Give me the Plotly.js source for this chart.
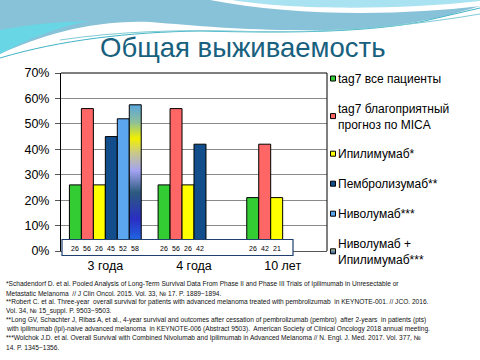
<!DOCTYPE html>
<html><head><meta charset="utf-8">
<script src="https://cdn.plot.ly/plotly-3.0.1.min.js"></script>
<style>html,body{margin:0;padding:0;background:#fff}#chart{width:480px;height:360px}</style>
</head><body><div id="chart"></div>
<script>
var categories = ['3 года', '4 года', '10 лет'];
var seriesNames = ['tag7 все пациенты', 'tag7 благоприятный<br>прогноз по MICA', 'Ипилимумаб*', 'Пембролизумаб**', 'Ниволумаб***', 'Ниволумаб +<br>Ипилимумаб***'];
var tag7All = [26, 26, 21];
var tag7Mica = [56, 56, 42];
var ipilimumab = [26, 26, 21];
var pembrolizumab = [45, 42, null];
var nivolumab = [52, null, null];
var nivoIpi = [57.5, null, null];
var tableTag7All = ['26', '26', '26'];
var tableTag7Mica = ['56', '56', '42'];
var tableIpi = ['26', '26', '21'];
var tablePembro = ['45', '42', ''];
var tableNivo = ['52', '', ''];
var tableNivoIpi = ['58', '', ''];
var yTicks = [0, 10, 20, 30, 40, 50, 60, 70];
var yTickLabels = ['0%', '10%', '20%', '30%', '40%', '50%', '60%', '70%'];
var footnotes = [
 '*Schadendorf D. et al. Pooled Analysis of Long-Term Survival Data From Phase II and Phase III Trials of Ipilimumab in Unresectable or',
 'Metastatic Melanoma  // J Clin Oncol. 2015. Vol. 33, № 17. P. 1889−1894.',
 '**Robert C. et al. Three-year  overall survival for patients with advanced melanoma treated with pembrolizumab  in KEYNOTE-001. // JCO. 2016.',
 'Vol. 34, № 15_suppl. P. 9503−9503.',
 '**Long GV, Schachter J, Ribas A, et al., 4-year survival and outcomes after cessation of pembrolizumab (pembro)  after 2-years  in patients (pts)',
 'with ipilimumab (ipi)-naive advanced melanoma  in KEYNOTE-006 (Abstract 9503).  American Society of Clinical Oncology 2018 annual meeting.',
 '***Wolchok J.D. et al. Overall Survival with Combined Nivolumab and Ipilimumab in Advanced Melanoma // N. Engl. J. Med. 2017. Vol. 377, №',
 '14. P. 1345−1356.'
];

var W = 480, H = 360, ML = 61, MR = 153, MT = 73, MB = 109;
var PW = W - ML - MR, PH = H - MT - MB;
var bargap = 0.19;
function px(x) { return (x - ML) / PW; }
function py(y) { return (H - MB - y) / PH; }
function pathPx(cmds) {
  return cmds.map(function (c) {
    if (typeof c === 'string') return c;
    return px(c[0]).toFixed(4) + ',' + py(c[1]).toFixed(4);
  }).join(' ');
}

var allValues = [tag7All, tag7Mica, ipilimumab, pembrolizumab, nivolumab, nivoIpi];
var allTables = [tableTag7All, tableTag7Mica, tableIpi, tablePembro, tableNivo, tableNivoIpi];
var colors = ['#33cc33', '#ff6666', '#ffff00', '#124e8c', '#5ba6ee', '#4a8fd8'];

var traces = allValues.map(function (v, i) {
  return {
    type: 'bar', name: seriesNames[i], x: categories, y: v,
    marker: {color: colors[i], line: {color: '#000', width: 1}},
    legendgroup: 'g' + i, hoverinfo: 'skip'
  };
});

var annotations = [];
var catPx = PW / categories.length;
var barPx = catPx * (1 - bargap) / allValues.length;
allTables.forEach(function (t, i) {
  t.forEach(function (lab, j) {
    if (!lab) return;
    annotations.push({
      x: categories[j], xref: 'x', y: py(248), yref: 'paper', yanchor: 'middle',
      xshift: (i - (allValues.length - 1) / 2) * barPx,
      text: lab, showarrow: false, font: {family: 'Liberation Sans, Arial', size: 7, color: '#000'}
    });
  });
});
annotations.push({
  text: 'Общая выживаемость', xref: 'paper', yref: 'paper', x: px(243), y: py(47),
  xanchor: 'center', yanchor: 'middle', showarrow: false,
  font: {family: 'Liberation Sans, Arial', size: 27.5, color: '#17607e'}
});
footnotes.forEach(function (f, k) {
  annotations.push({
    text: f, xref: 'paper', yref: 'paper', x: px(4), y: py(284 + k * 9.05),
    xanchor: 'left', yanchor: 'middle', showarrow: false,
    font: {family: 'Liberation Sans, Arial', size: 6.6, color: '#111'}
  });
});

var shapes = [
  {type: 'path', xref: 'paper', yref: 'paper', layer: 'below', line: {width: 0}, fillcolor: '#87c2d8',
   path: pathPx(['M', [0, 0], 'L', [480, 0], 'L', [480, 6], 'C', [430, 22], [380, 30], [320, 30], 'C', [250, 31], [200, 26], [150, 22], 'C', [90, 20], [40, 36], [0, 54], 'Z'])},
  {type: 'path', xref: 'paper', yref: 'paper', layer: 'below', line: {width: 0}, fillcolor: '#68d6e4',
   path: pathPx(['M', [0, 30], 'C', [30, 24], [60, 22], [90, 21], 'C', [60, 26], [30, 38], [0, 54], 'Z'])},
  {type: 'path', xref: 'paper', yref: 'paper', layer: 'below', line: {width: 0}, fillcolor: '#a9e2f0',
   path: pathPx(['M', [225, 0], 'L', [480, 0], 'L', [480, 6], 'C', [420, 12], [330, 14], [260, 6], 'Z'])},
  {type: 'path', xref: 'paper', yref: 'paper', layer: 'below', line: {width: 0}, fillcolor: '#ffffff',
   path: pathPx(['M', [210, 0], 'L', [232, 0], 'C', [290, 10], [400, 10], [480, 1], 'L', [480, 6], 'C', [400, 16], [290, 16], [210, 0], 'Z'])},
  {type: 'path', xref: 'paper', yref: 'paper', layer: 'below', line: {width: 1, color: '#40b3c4'}, fillcolor: 'rgba(0,0,0,0)',
   path: pathPx(['M', [0, 58], 'C', [60, 40], [130, 32], [200, 31], 'C', [280, 33], [360, 33], [420, 22], 'L', [480, 8]])},
  {type: 'path', xref: 'paper', yref: 'paper', layer: 'below', line: {width: 1, color: '#7fcbd6'}, fillcolor: 'rgba(0,0,0,0)',
   path: pathPx(['M', [60, 40], 'C', [120, 31], [180, 30], [230, 31], 'C', [300, 33], [380, 31], [480, 14]])},
  {type: 'path', xref: 'paper', yref: 'paper', layer: 'above', fillcolor: '#ffffff', line: {color: '#1f3f6f', width: 1.2},
   path: pathPx(['M', [62, 239.5], 'L', [293, 239.5], 'L', [293, 255.5], 'L', [62, 255.5], 'Z'])},
  {type: 'line', xref: 'paper', yref: 'paper', x0: 0, x1: 1, y0: 1, y1: 1, line: {color: '#000', width: 1}},
  {type: 'line', xref: 'paper', yref: 'paper', x0: 1, x1: 1, y0: 0, y1: 1, line: {color: '#000', width: 1}}
];

var layout = {
  width: W, height: H, margin: {l: ML, r: MR, t: MT, b: MB},
  paper_bgcolor: '#ffffff', plot_bgcolor: 'rgba(0,0,0,0)',
  barmode: 'group', bargap: bargap, bargroupgap: 0,
  font: {family: 'Liberation Sans, Arial', color: '#000'},
  xaxis: {type: 'category', range: [-0.5, 2.5], showgrid: false, showline: true, linecolor: '#555', linewidth: 1,
    ticks: '', tickfont: {size: 12.5, color: '#000'}, ticklabelstandoff: 3, fixedrange: true},
  yaxis: {range: [0, 70], tickmode: 'array', tickvals: yTicks, ticktext: yTickLabels, showgrid: true, gridcolor: '#8a8a8a', gridwidth: 1,
    showline: true, linecolor: '#000', linewidth: 1, ticks: 'outside', ticklen: 5, tickcolor: '#555',
    tickfont: {size: 12.5, color: '#000'}, zeroline: false, ticklabelstandoff: 3, fixedrange: true},
  showlegend: true,
  legend: {x: px(298), y: py(64), xanchor: 'left', yanchor: 'top', bgcolor: 'rgba(0,0,0,0)',
    font: {size: 12, color: '#000'}, tracegroupgap: 11, itemwidth: 30, traceorder: 'grouped', maxheight: 300},
  shapes: shapes, annotations: annotations
};

Plotly.newPlot('chart', traces, layout, {staticPlot: true, displayModeBar: false}).then(function (gd) {
  var svg = gd.querySelector('.main-svg');
  var ns = 'http://www.w3.org/2000/svg';
  var defs = svg.querySelector('defs') || svg.insertBefore(document.createElementNS(ns, 'defs'), svg.firstChild);
  function grad(id, stops) {
    var g = document.createElementNS(ns, 'linearGradient');
    g.setAttribute('id', id); g.setAttribute('x1', '0'); g.setAttribute('y1', '0'); g.setAttribute('x2', '0'); g.setAttribute('y2', '1');
    stops.forEach(function (s) {
      var st = document.createElementNS(ns, 'stop');
      st.setAttribute('offset', s[0]); st.setAttribute('stop-color', s[1]); g.appendChild(st);
    });
    defs.appendChild(g);
  }
  grad('nivoGrad', [[0, '#5aa6dc'], [0.12, '#8dbf9a'], [0.23, '#f2f000'], [0.33, '#c9c88a'], [0.45, '#a3a3f2'], [0.6, '#2c5a7e'], [0.78, '#2a2ec2'], [1, '#1a82f2']]);
  grad('nivoLeg', [[0, '#b8c890'], [0.5, '#6f8fa0'], [1, '#2a4fb0']]);
  var bars = gd.querySelectorAll('.barlayer .trace.bars');
  var last = bars[bars.length - 1];
  if (last) last.querySelectorAll('path').forEach(function (p) { p.style.fill = 'url(#nivoGrad)'; });
  var legs = gd.querySelectorAll('.legend .traces');
  var ll = legs[legs.length - 1];
  if (ll) ll.querySelectorAll('.legendpoints path').forEach(function (p) { p.style.fill = 'url(#nivoLeg)'; });
  gd.querySelectorAll('.legend .legendpoints path').forEach(function (p) {
    p.setAttribute('d', 'M17.5,2.5H12.5V-2.5H17.5Z');
    p.style.strokeWidth = '1px';
  });
});
</script></body></html>
